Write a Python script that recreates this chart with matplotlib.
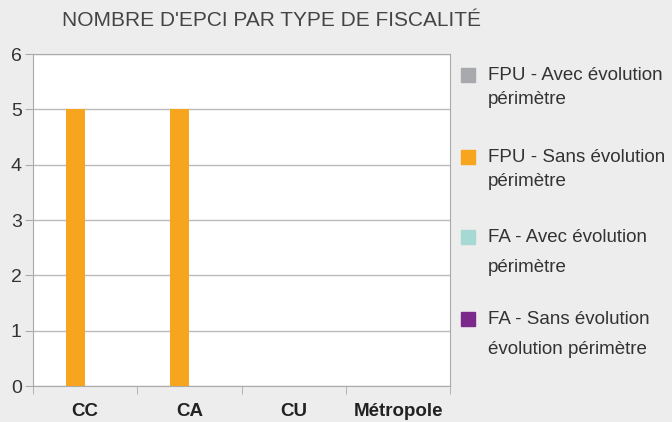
import numpy as np
import matplotlib.pyplot as plt
from matplotlib.patches import Rectangle

categories = ['CC', 'CA', 'CU', 'Métropole']
series = ['FPU - Avec évolution\npérimètre',
          'FPU - Sans évolution\npérimètre',
          'FA - Avec évolution\npérimètre',
          'FA - Sans évolution\névolution périmètre']
fpu_avec = [0, 0, 0, 0]
fpu_sans = [5, 5, 0, 0]
fa_avec = [0, 0, 0, 0]
fa_sans = [0, 0, 0, 0]
colors = ['#A7A9AC', '#F7A51E', '#A6D9D3', '#7B2A8C']

plt.rcParams['font.family'] = ['Liberation Sans', 'DejaVu Sans']
bg = '#ECEDEC'
txt = '#333333'
W, H = 672, 422

fig = plt.figure(figsize=(6.72, 4.22), dpi=100, facecolor=bg)
ax = fig.add_axes([0.049, 0.085, 0.621, 0.787])
ax.set_facecolor('white')

x = np.arange(len(categories))
w = 0.183
for i, vals in enumerate([fpu_avec, fpu_sans, fa_avec, fa_sans]):
    ax.bar(x + (i - 1.5) * w, vals, w, color=colors[i], zorder=3)

ax.set_xlim(-0.5, 3.5)
ax.set_ylim(0, 6)
ax.set_yticks(range(7))
ax.yaxis.grid(True, color='#BBBBBB', lw=1, zorder=0)
for s in ax.spines.values():
    s.set_color('#AAAAAA')
ax.set_xticks(x)
ax.set_xticklabels(categories, fontsize=13.5, fontweight='bold', color='#222222')
ax.set_xticks(np.arange(-0.5, 4, 1), minor=True)
ax.tick_params(axis='x', which='major', length=0, pad=12)
ax.tick_params(axis='x', which='minor', length=6, color='#AAAAAA')
ax.tick_params(axis='y', length=6, color='#AAAAAA', labelsize=14, labelcolor=txt, pad=2)

fig.text(62 / W, 1 - 20 / H, "NOMBRE D'EPCI PAR TYPE DE FISCALITÉ", fontsize=15,
         color='#444444', va='center', ha='left')

# legend drawn by hand so the swatch sits on the first line
entry_y = [75, 157, 237, 319]
line_gap = [25, 25, 31, 31]
for lab, c, yy, gap in zip(series, colors, entry_y, line_gap):
    fig.patches.append(Rectangle((461 / W, 1 - (yy + 7) / H), 14 / W, 14 / H,
                                 transform=fig.transFigure, color=c, figure=fig))
    for k, line in enumerate(lab.split('\n')):
        fig.text(488 / W, 1 - (yy + k * gap) / H, line, fontsize=13.5,
                 color=txt, va='center', ha='left')

fig.savefig('out.png', dpi=100, facecolor=bg)
